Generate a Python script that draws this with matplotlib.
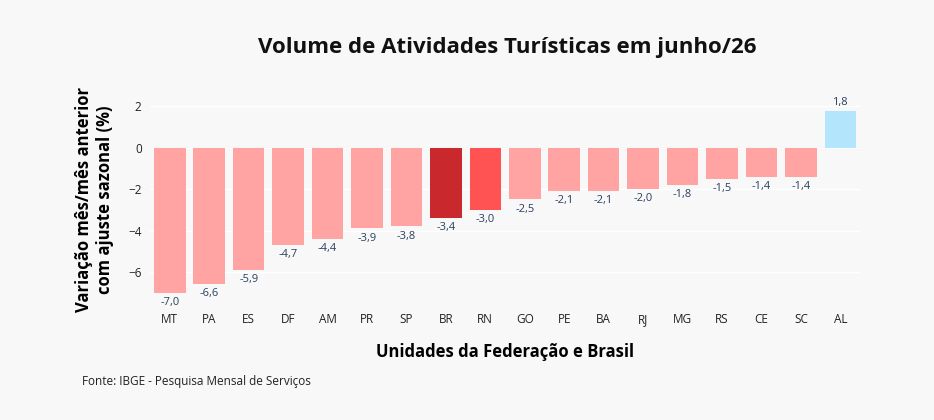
import matplotlib
matplotlib.use("Agg")
import matplotlib.pyplot as plt

categories = ["MT","PA","ES","DF","AM","PR","SP","BR","RN","GO","PE","BA","RJ","MG","RS","CE","SC","AL"]
values = [-7.0,-6.6,-5.9,-4.7,-4.4,-3.9,-3.8,-3.4,-3.0,-2.5,-2.1,-2.1,-2.0,-1.8,-1.5,-1.4,-1.4,1.8]
special = {"BR":"#c9282d","RN":"#ff5252","AL":"#b3e5fc"}
base_color = "#ffa3a3"
yticks = [-6,-4,-2,0,2]

plt.rcParams['font.family'] = ['Open Sans','DejaVu Sans']
bg = "#f8f8f8"
fig = plt.figure(figsize=(9.34,4.2), dpi=100, facecolor=bg)
ax = fig.add_axes([150/934, 1-305/420, 710/934, 210/420], facecolor=bg)
colors = [special.get(c, base_color) for c in categories]
x = range(len(categories))
ax.bar(x, values, width=0.8, color=colors, zorder=3)
for i, v in enumerate(values):
    lbl = f"{v:.1f}".replace(".", ",")
    if v < 0:
        ax.text(i, v-0.2, lbl, ha="center", va="top", fontsize=8, color="#2a3f5f")
    else:
        ax.text(i, v+0.12, lbl, ha="center", va="bottom", fontsize=8, color="#2a3f5f")
ax.set_xlim(-0.5, len(categories)-0.5)
ax.set_ylim(-7.6, 2.55)
ax.set_yticks(yticks)
ax.set_yticklabels([str(t).replace("-", "−") for t in yticks], fontsize=8.5, color="#222")
ax.set_xticks(list(x))
ax.set_xticklabels(categories, fontsize=8.5, color="#222")
ax.tick_params(length=0, pad=6)
ax.grid(axis="y", color="white", linewidth=1, zorder=0)
ax.axhline(0, color="#e0e0e0", linewidth=1, zorder=1)
for s in ax.spines.values():
    s.set_visible(False)
ax.set_xlabel("Unidades da Federação e Brasil", fontsize=12, fontweight="bold", labelpad=12)
ax.set_ylabel("Variação mês/mês anterior\ncom ajuste sazonal (%)", fontsize=12, fontweight="bold", labelpad=10)
fig.text(507/934, 1-47/420, "Volume de Atividades Turísticas em junho/26", ha="center", va="center",
         fontsize=16, fontweight="bold", color="#111")
fig.text(82/934, 1-381/420, "Fonte: IBGE - Pesquisa Mensal de Serviços", ha="left", va="center",
         fontsize=8.5, color="#222")
fig.savefig("out.png", dpi=100, facecolor=bg)
